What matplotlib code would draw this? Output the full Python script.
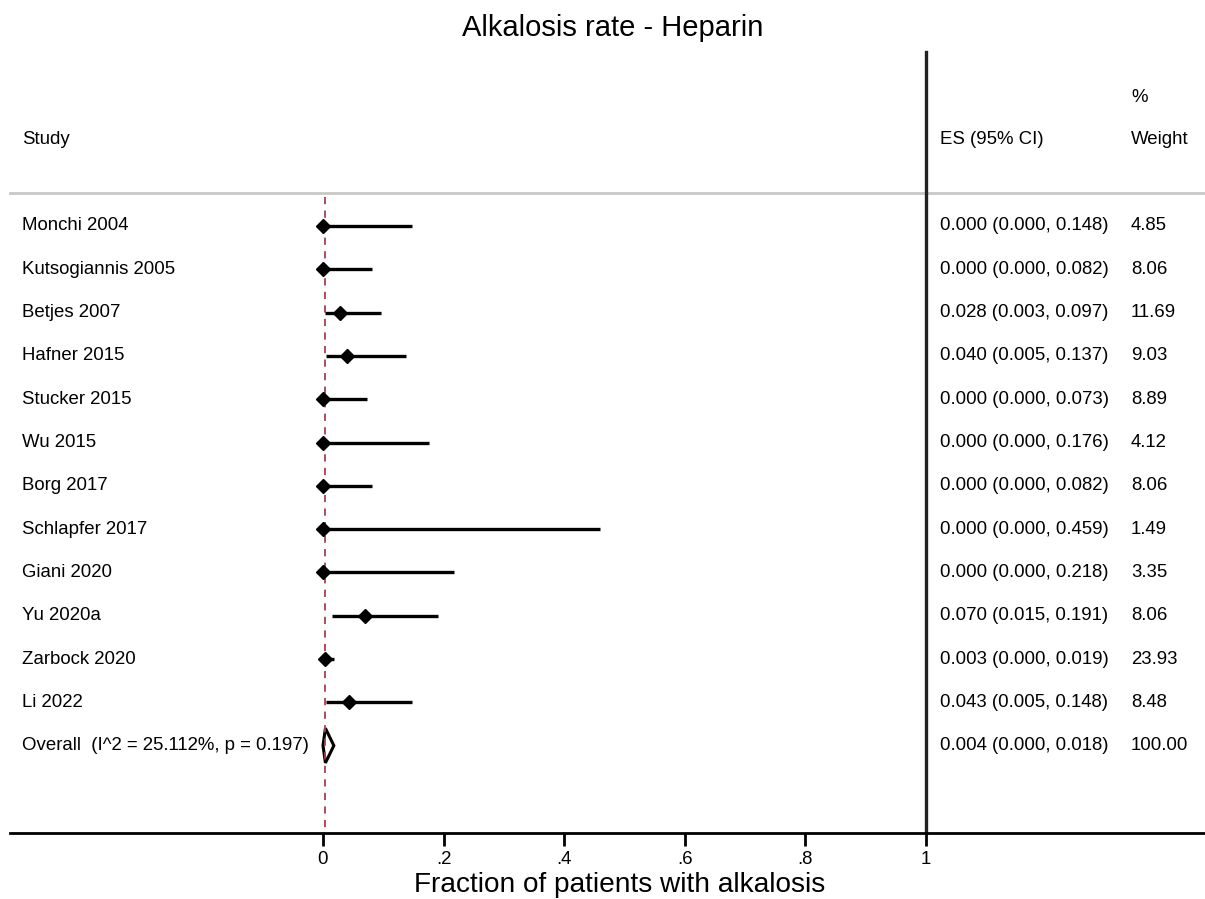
import numpy as np
import matplotlib
matplotlib.use("Agg")
import matplotlib.pyplot as plt

plt.rcParams['font.family'] = ['Liberation Sans', 'DejaVu Sans']

# --- data ---
studies = ["Monchi 2004", "Kutsogiannis 2005", "Betjes 2007", "Hafner 2015",
           "Stucker 2015", "Wu 2015", "Borg 2017", "Schlapfer 2017",
           "Giani 2020", "Yu 2020a", "Zarbock 2020", "Li 2022"]
es = [0.000, 0.000, 0.028, 0.040, 0.000, 0.000, 0.000, 0.000, 0.000, 0.070, 0.003, 0.043]
ci_lo = [0.000, 0.000, 0.003, 0.005, 0.000, 0.000, 0.000, 0.000, 0.000, 0.015, 0.000, 0.005]
ci_hi = [0.148, 0.082, 0.097, 0.137, 0.073, 0.176, 0.082, 0.459, 0.218, 0.191, 0.019, 0.148]
weights = [4.85, 8.06, 11.69, 9.03, 8.89, 4.12, 8.06, 1.49, 3.35, 8.06, 23.93, 8.48]

overall_label = "Overall  (I^2 = 25.112%, p = 0.197)"
overall_es, overall_lo, overall_hi, overall_w = 0.004, 0.000, 0.018, 100.00

xticks = [0, 0.2, 0.4, 0.6, 0.8, 1]
xtick_labels = ["0", ".2", ".4", ".6", ".8", "1"]

# layout (data coords: x = fraction, y = row index)
W, H = 1205, 899
X0, XSCALE = 323, 603          # pixel of 0 and pixels per unit
Y0, YSTEP = 226, 43.3          # pixel of first row and row spacing
px2x = lambda p: (p - X0) / XSCALE
px2y = lambda p: (p - Y0) / YSTEP

FS = 13.4
fig = plt.figure(figsize=(W / 100, H / 100), dpi=100)
ax = fig.add_axes([0, 0, 1, 1])
ax.set_xlim(px2x(0), px2x(W))
ax.set_ylim(px2y(H), px2y(0))
for s in ["top", "left", "right"]:
    ax.spines[s].set_visible(False)
ax.set_yticks([])

axis_y = px2y(833)
ax.spines["bottom"].set_position(("data", axis_y))
ax.spines["bottom"].set_bounds(px2x(10), px2x(W))
ax.spines["bottom"].set_linewidth(2)
ax.set_xticks(xticks, xtick_labels)
ax.tick_params(axis="x", direction="out", length=9, width=2, pad=4, labelsize=FS)

rows = np.arange(len(studies))
col_es = px2x(940)
col_w = px2x(1131)
col_study = px2x(22)

# header
ax.text(col_study, px2y(139), "Study", fontsize=FS, va="center")
ax.text(col_es, px2y(139), "ES (95% CI)", fontsize=FS, va="center")
ax.text(col_w, px2y(139), "Weight", fontsize=FS, va="center")
ax.text(col_w, px2y(97), "%", fontsize=FS, va="center")
ax.plot([px2x(10), px2x(W)], [px2y(193)] * 2, color="#c8c8c8", lw=2)

# reference lines
ax.plot([1, 1], [px2y(52), axis_y], color="#222222", lw=2.4)
ax.plot([overall_es, overall_es], [px2y(197), axis_y], color="#a8404c",
        lw=1.3, ls=(0, (4, 3.5)))

# studies
for i in rows:
    ax.plot([ci_lo[i], ci_hi[i]], [i, i], color="black", lw=2.4, solid_capstyle="butt")
    ax.plot(es[i], i, marker="D", color="black", ms=7)
    ax.text(col_study, i, studies[i], fontsize=FS, va="center")
    ax.text(col_es, i, f"{es[i]:.3f} ({ci_lo[i]:.3f}, {ci_hi[i]:.3f})",
            fontsize=FS, va="center")
    ax.text(col_w, i, f"{weights[i]:.2f}", fontsize=FS, va="center")

# overall diamond
oy = len(studies)
h = 0.4
ax.fill([overall_lo, overall_es, overall_hi, overall_es],
        [oy, oy - h, oy, oy + h], facecolor="white", edgecolor="black", lw=2.2)
ax.text(col_study, oy, overall_label, fontsize=FS, va="center")
ax.text(col_es, oy, f"{overall_es:.3f} ({overall_lo:.3f}, {overall_hi:.3f})",
        fontsize=FS, va="center")
ax.text(col_w, oy, f"{overall_w:.2f}", fontsize=FS, va="center")

# titles
fig.text(613 / W, 1 - 28 / H, "Alkalosis rate - Heparin", fontsize=21,
         ha="center", va="center")
fig.text(620 / W, 1 - 892 / H, "Fraction of patients with alkalosis", fontsize=20.2,
         ha="center", va="baseline")

fig.savefig("out.png", dpi=100)
